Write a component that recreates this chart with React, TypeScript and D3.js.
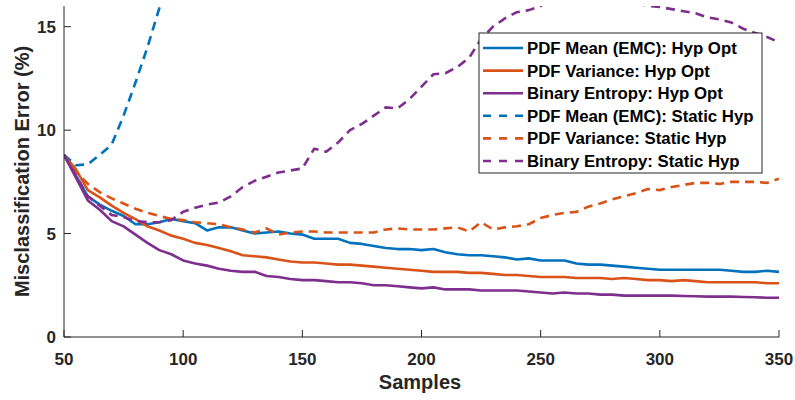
import React from 'react';
import * as d3 from 'd3';

// samples 50..350 step 5
const samples = d3.range(50, 351, 5);

const meanHypOpt = [8.8, 7.8, 6.8, 6.4, 6.1, 5.85, 5.45, 5.45, 5.55, 5.7, 5.6, 5.5, 5.15, 5.3, 5.3, 5.15, 5.0, 5.05, 5.1, 5.0,
  4.95, 4.75, 4.75, 4.75, 4.55, 4.5, 4.4, 4.3, 4.25, 4.25, 4.2, 4.25, 4.1, 4.0, 3.95, 3.95, 3.9, 3.85, 3.75, 3.8,
  3.7, 3.7, 3.7, 3.55, 3.5, 3.5, 3.45, 3.4, 3.35, 3.3, 3.25, 3.25, 3.25, 3.25, 3.25, 3.25, 3.2, 3.15, 3.15, 3.2, 3.15];

const varHypOpt = [8.8, 8.1, 7.1, 6.75, 6.35, 6.0, 5.7, 5.35, 5.15, 4.9, 4.75, 4.55, 4.45, 4.3, 4.15, 3.95, 3.9, 3.85, 3.75, 3.65,
  3.6, 3.6, 3.55, 3.5, 3.5, 3.45, 3.4, 3.35, 3.3, 3.25, 3.2, 3.15, 3.15, 3.15, 3.1, 3.1, 3.05, 3.0, 3.0, 2.95,
  2.9, 2.9, 2.9, 2.85, 2.85, 2.85, 2.8, 2.85, 2.8, 2.75, 2.75, 2.7, 2.75, 2.7, 2.65, 2.65, 2.65, 2.65, 2.65, 2.6, 2.6];

const entHypOpt = [8.8, 7.7, 6.6, 6.15, 5.6, 5.35, 4.95, 4.55, 4.2, 4.0, 3.7, 3.55, 3.45, 3.3, 3.2, 3.15, 3.15, 2.95, 2.9, 2.8,
  2.75, 2.75, 2.7, 2.65, 2.65, 2.6, 2.5, 2.5, 2.45, 2.4, 2.35, 2.4, 2.3, 2.3, 2.3, 2.25, 2.25, 2.25, 2.25, 2.2,
  2.15, 2.1, 2.15, 2.1, 2.1, 2.05, 2.05, 2.0, 2.0, 2.0, 2.0, 2.0, 1.98, 1.97, 1.95, 1.95, 1.95, 1.93, 1.92, 1.9, 1.9];

// static hyp: PDF mean leaves the axes after ~90 samples
const meanStatic = [8.8, 8.3, 8.35, 8.8, 9.3, 10.7, 12.3, 14.0, 15.9, 17.6];

const varStatic = [8.8, 8.0, 7.4, 7.0, 6.7, 6.45, 6.2, 6.0, 5.85, 5.7, 5.65, 5.55, 5.5, 5.45, 5.3, 5.2, 5.05, 5.25, 4.95, 5.05,
  5.1, 5.1, 5.05, 5.05, 5.05, 5.05, 5.05, 5.2, 5.25, 5.2, 5.2, 5.2, 5.25, 5.3, 5.1, 5.55, 5.2, 5.3, 5.35, 5.45,
  5.75, 5.9, 6.0, 6.05, 6.3, 6.45, 6.65, 6.8, 6.95, 7.15, 7.1, 7.25, 7.35, 7.45, 7.45, 7.4, 7.5, 7.5, 7.5, 7.45, 7.65];

const entStatic = [8.8, 7.8, 6.8, 6.35, 5.9, 5.8, 5.6, 5.55, 5.55, 5.65, 6.05, 6.25, 6.4, 6.5, 6.8, 7.25, 7.55, 7.75, 7.95, 8.05,
  8.15, 9.1, 8.95, 9.4, 10.0, 10.3, 10.7, 11.1, 11.05, 11.5, 12.1, 12.7, 12.75, 13.05, 13.5, 14.4, 15.0, 15.4, 15.7, 15.8,
  16.0, 16.4, 16.7, 16.9, 17.0, 16.9, 16.6, 16.4, 16.15, 16.0, 15.95, 15.85, 15.75, 15.65, 15.45, 15.35, 15.2, 14.9, 14.7, 14.5, 14.25];

const xTicks = [50, 100, 150, 200, 250, 300, 350];
const yTicks = [0, 5, 10, 15];

const series = [
  { name: 'PDF Mean (EMC): Hyp Opt', values: meanHypOpt, color: '#0072BD', dashed: false },
  { name: 'PDF Variance: Hyp Opt', values: varHypOpt, color: '#D95319', dashed: false },
  { name: 'Binary Entropy: Hyp Opt', values: entHypOpt, color: '#7E2F8E', dashed: false },
  { name: 'PDF Mean (EMC): Static Hyp', values: meanStatic, color: '#0072BD', dashed: true },
  { name: 'PDF Variance: Static Hyp', values: varStatic, color: '#D95319', dashed: true },
  { name: 'Binary Entropy: Static Hyp', values: entStatic, color: '#7E2F8E', dashed: true },
];

const left = 64, right = 779, top = 6, bottom = 337;
const font = 'Liberation Sans, Arial, Helvetica, sans-serif';
const axisCol = '#262626';

export default function App() {
  const x = d3.scaleLinear().domain([50, 350]).range([left, right]);
  const y = d3.scaleLinear().domain([0, 16]).range([bottom, top]);
  const line = d3.line<number>().x((_, i) => x(samples[i])).y(d => y(d));

  const lgX = 479, lgY = 33, lgW = 283, lgH = 140, rowH = 22.6;

  return (
    <svg width={795} height={400} style={{ position: 'absolute', left: 0, top: 0, background: '#fff' }}
      fontFamily={font}>
      <defs>
        <clipPath id="plot">
          <rect x={left} y={top} width={right - left} height={bottom - top} />
        </clipPath>
      </defs>

      <g clipPath="url(#plot)">
        {series.map(s => (
          <path key={s.name} d={line(s.values) || ''} fill="none" stroke={s.color} strokeWidth={2.6}
            strokeDasharray={s.dashed ? '9,6' : undefined} strokeLinejoin="round" />
        ))}
      </g>

      {/* axes */}
      <line x1={left} x2={right} y1={bottom} y2={bottom} stroke={axisCol} strokeWidth={1} />
      <line x1={left} x2={left} y1={top} y2={bottom} stroke={axisCol} strokeWidth={1} />
      {xTicks.map(t => (
        <g key={t}>
          <line x1={x(t)} x2={x(t)} y1={bottom} y2={bottom - 7} stroke={axisCol} />
          <text x={x(t)} y={365} textAnchor="middle" fontSize={17} fontWeight="bold" fill={axisCol}>{t}</text>
        </g>
      ))}
      {yTicks.map(t => (
        <g key={t}>
          <line x1={left} x2={left + 7} y1={y(t)} y2={y(t)} stroke={axisCol} />
          <text x={56} y={y(t) + 6} textAnchor="end" fontSize={17} fontWeight="bold" fill={axisCol}>{t}</text>
        </g>
      ))}

      <text x={420} y={389} textAnchor="middle" fontSize={20} fontWeight="bold" fill={axisCol}>Samples</text>
      <text transform={`translate(29,${(top + bottom) / 2}) rotate(-90)`} textAnchor="middle" fontSize={20}
        fontWeight="bold" fill={axisCol}>Misclassification Error (%)</text>

      {/* legend */}
      <rect x={lgX} y={lgY} width={lgW} height={lgH} fill="#fff" stroke="#262626" strokeWidth={1} />
      {series.map((s, i) => {
        const cy = lgY + 15 + i * rowH;
        return (
          <g key={s.name}>
            <line x1={lgX + 4} x2={lgX + 44} y1={cy} y2={cy} stroke={s.color} strokeWidth={2.6}
              strokeDasharray={s.dashed ? '8,8' : undefined} />
            <text x={lgX + 48} y={cy + 6} fontSize={16.8} fontWeight="bold" fill="#000">{s.name}</text>
          </g>
        );
      })}
    </svg>
  );
}
